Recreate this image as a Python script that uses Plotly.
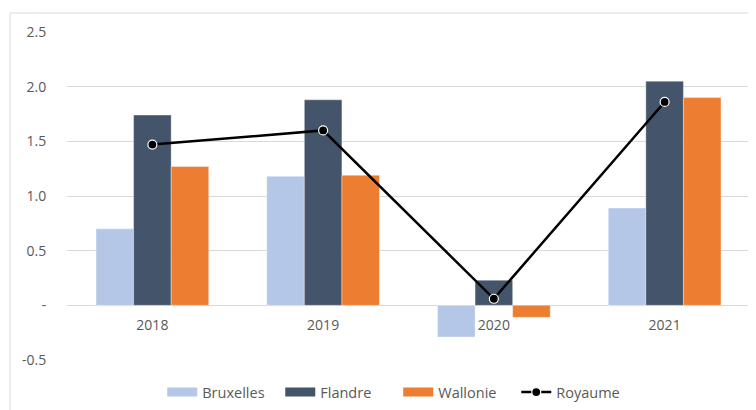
import plotly.graph_objects as go

categories = ["2018", "2019", "2020", "2021"]
bruxelles = [0.70, 1.18, -0.29, 0.89]
flandre = [1.74, 1.88, 0.23, 2.05]
wallonie = [1.27, 1.19, -0.11, 1.90]
royaume = [1.47, 1.60, 0.06, 1.86]

tick_vals = [-0.5, 0, 0.5, 1.0, 1.5, 2.0, 2.5]
tick_text = ["-0.5", "-", "0.5", "1.0", "1.5", "2.0", "2.5"]

ymin, ymax = -0.5, 2.5

series = [("Bruxelles", bruxelles, "#B4C7E7"),
          ("Flandre", flandre, "#44546A"),
          ("Wallonie", wallonie, "#ED7D31")]

fig = go.Figure()
for name, vals, col in series:
    fig.add_trace(go.Bar(x=categories, y=vals, name=name, legendgroup=name, showlegend=False,
                         marker=dict(color=col, line=dict(color="rgba(255,255,255,0.6)", width=0.6))))
    # legend entry drawn as a wide rectangle like the original
    fig.add_trace(go.Scatter(x=[None], y=[None], name=name, legendgroup=name, mode="lines",
                             line=dict(color=col, width=9)))
fig.add_trace(go.Scatter(x=categories, y=royaume, name="Royaume", mode="lines+markers",
                         line=dict(color="black", width=2.5),
                         marker=dict(color="black", size=9, line=dict(color="white", width=1.2))))

font_fam = "Open Sans, Liberation Sans, sans-serif"
fig.update_layout(
    width=748, height=402,
    margin=dict(l=59, r=6, t=24, b=50, autoexpand=False),
    paper_bgcolor="white", plot_bgcolor="white",
    barmode="group", bargap=0.34, bargroupgap=0,
    font=dict(family=font_fam, size=14, color="#595959"),
    showlegend=True,
    legend=dict(orientation="h", x=0.485, xanchor="center", y=-0.098, yanchor="middle",
                font=dict(size=14.5, color="#595959"), traceorder="normal",
                itemwidth=30, tracegroupgap=0, entrywidth=73, entrywidthmode="pixels"),
    shapes=[dict(type="rect", xref="paper", yref="paper",
                 x0=-0.0835, x1=1.006, y0=-0.16, y1=1.058,
                 line=dict(color="#D9D9D9", width=1), fillcolor="rgba(0,0,0,0)", layer="below")],
)
fig.update_xaxes(
    type="category", showgrid=False, zeroline=False, showline=False,
    anchor="free", position=(0 - ymin) / (ymax - ymin),
    ticks="outside", ticklen=7, tickcolor="rgba(0,0,0,0)",
    tickfont=dict(size=14, color="#595959"),
)
fig.update_yaxes(
    range=[ymin, ymax], tickvals=tick_vals, ticktext=tick_text,
    showgrid=True, gridcolor="#D9D9D9", gridwidth=1,
    zeroline=True, zerolinecolor="#D9D9D9", zerolinewidth=1,
    showline=False, ticks="outside", ticklen=17, tickcolor="rgba(0,0,0,0)",
    tickfont=dict(size=14, color="#595959"),
)
fig.write_html("out.html")
